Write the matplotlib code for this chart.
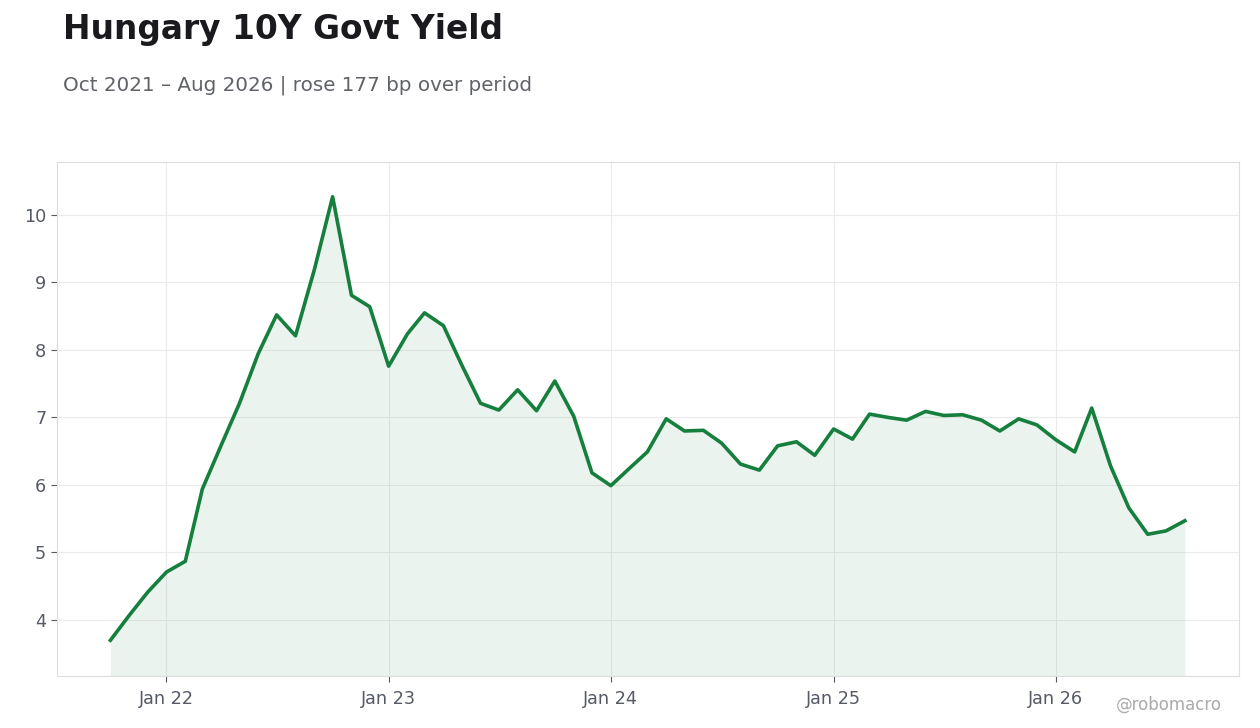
import pandas as pd
import matplotlib
matplotlib.use('Agg')
import matplotlib.pyplot as plt
import matplotlib.dates as mdates

plt.rcParams['font.family'] = ['DejaVu Sans']

fechas = pd.date_range('2021-10-01', '2026-08-01', freq='MS')

rendimiento = [
    3.70, 4.07, 4.41,
    4.71, 4.87, 5.94, 6.59, 7.21, 7.95, 8.52, 8.21, 9.19, 10.27, 8.81, 8.64,
    7.76, 8.24, 8.55, 8.36, 7.78, 7.21, 7.11, 7.41, 7.10, 7.54, 7.02, 6.18,
    5.99, 6.25, 6.49, 6.98, 6.80, 6.81, 6.62, 6.31, 6.22, 6.58, 6.64, 6.44,
    6.83, 6.68, 7.05, 7.00, 6.96, 7.09, 7.03, 7.04, 6.96, 6.80, 6.98, 6.89,
    6.67, 6.49, 7.14, 6.28, 5.66, 5.27, 5.32, 5.47,
]

titulo = 'Hungary 10Y Govt Yield'
subtitulo = 'Oct 2021 – Aug 2026 | rose 177 bp over period'

verde = '#167f3d'
gris = '#5f6368'

fig = plt.figure(figsize=(12.6, 7.28), dpi=100)
ax = fig.add_axes([0.045, 0.0714, 0.938, 0.7061])

ax.plot(fechas, rendimiento, color=verde, linewidth=2.6, zorder=3)
ax.fill_between(fechas, rendimiento, 3.17, color=verde, alpha=0.085, linewidth=0, zorder=2)

ax.set_ylim(3.17, 10.785)
ax.xaxis.set_major_locator(mdates.YearLocator())
ax.xaxis.set_major_formatter(mdates.DateFormatter('%b %y'))

ax.grid(True, color='#ebebeb', linewidth=0.8, zorder=0)
ax.set_axisbelow(True)
for lado in ax.spines.values():
    lado.set_color('#dddddd')
ax.tick_params(axis='both', colors='#555a66', labelsize=12.7, length=4, width=0.8)
ax.tick_params(axis='x', pad=6)

fig.text(0.05, 0.96, titulo, fontsize=23.7, fontweight='bold', color='#1a1a1e', va='center')
fig.text(0.05, 0.883, subtitulo, fontsize=14.35, color=gris, va='center')
fig.text(0.970, 0.0316, '@robomacro', fontsize=12, color='#aaaaaa', ha='right', va='center')

fig.savefig('out.png', dpi=100)
